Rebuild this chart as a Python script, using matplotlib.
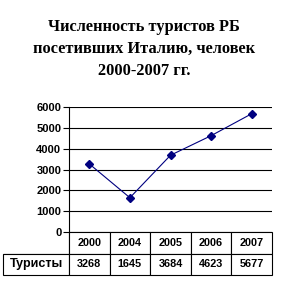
import matplotlib
matplotlib.use("Agg")
import matplotlib.pyplot as plt

years = ["2000", "2004", "2005", "2006", "2007"]
tourists = [3268, 1645, 3684, 4623, 5677]
row_label = "Туристы"
title_lines = ["Численность туристов РБ", "посетивших Италию, человек", "2000-2007 гг."]

fig = plt.figure(figsize=(2.88, 2.91), dpi=100)
ax = fig.add_axes([69 / 288, 1 - 232 / 291, 203 / 288, 125 / 291])

x = list(range(len(years)))
ax.plot(x, tourists, color="#000080", linewidth=0.8, marker="D", markersize=4.5)

ax.set_xlim(-0.5, len(years) - 0.5)
ax.set_ylim(0, 6000)
ax.set_yticks(range(0, 6001, 1000))
ax.grid(axis="y", color="black", linewidth=0.8)
ax.set_axisbelow(True)
for s in ["top", "right", "bottom"]:
    ax.spines[s].set_visible(False)
ax.spines["left"].set_linewidth(0.8)
ax.tick_params(axis="y", direction="out", length=4, width=0.8, pad=1.5, labelsize=8)
for lbl in ax.get_yticklabels():
    lbl.set_fontweight("bold")
    lbl.set_fontfamily("Liberation Sans")
ax.set_xticks([])

# table below the plot
cells = [[""] + years, [row_label] + [str(v) for v in tourists]]
lab_w = 66 / 203
tbl = ax.table(cellText=cells, cellLoc="center",
               colWidths=[lab_w] + [1 / 5] * 5,
               bbox=[-lab_w, -43 / 125, 1 + lab_w, 43 / 125])
tbl.auto_set_font_size(False)
for (r, c), cell in tbl.get_celld().items():
    cell.set_linewidth(0.8)
    txt = cell.get_text()
    txt.set_fontsize(9 if (r, c) == (1, 0) else 7.8)
    txt.set_fontweight("bold")
    txt.set_fontfamily("Liberation Sans")
    if r == 0 and c == 0:
        cell.visible_edges = "BR"

fig.text(0.5, 1 - 19 / 291, "\n".join(title_lines), ha="center", va="top",
         fontsize=11.8, fontweight="bold", family="Liberation Serif", linespacing=1.5)

fig.savefig("out.png", dpi=100)
